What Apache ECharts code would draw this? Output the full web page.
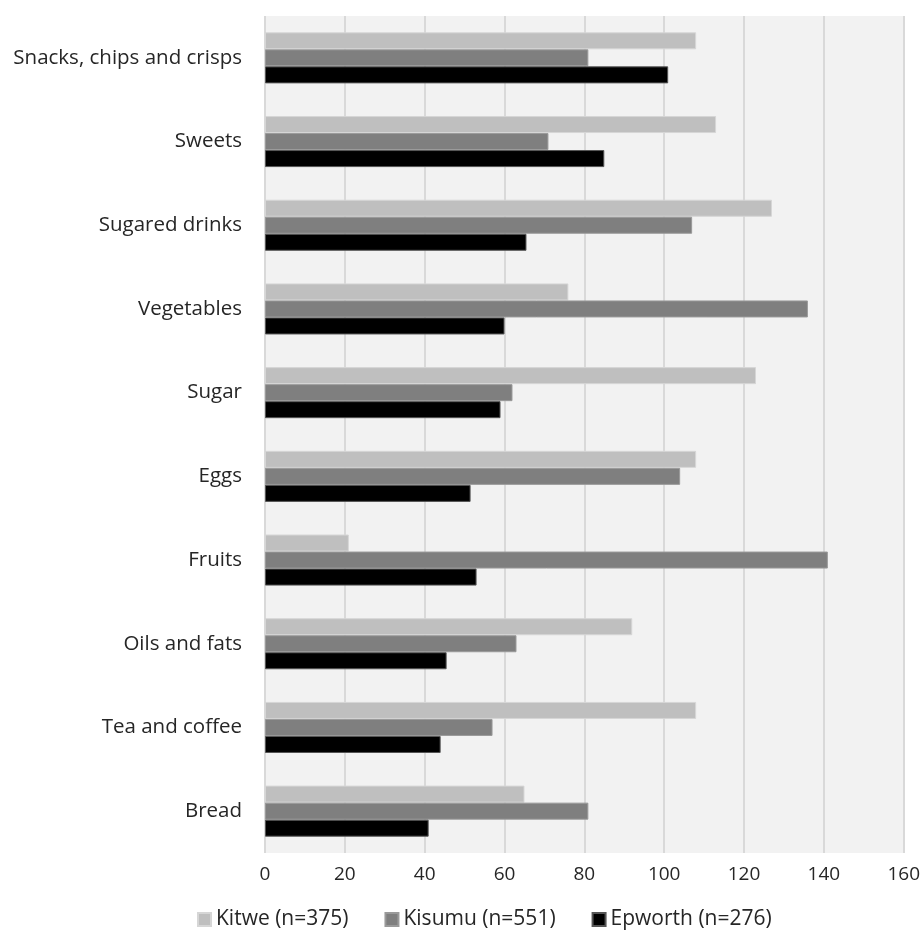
<!DOCTYPE html>
<html>
<head>
<meta charset="utf-8">
<script src="https://cdn.jsdelivr.net/npm/echarts@6/dist/echarts.min.js"></script>
<style>html,body{margin:0;padding:0;background:#fff;}#c{width:923px;height:941px;}</style>
</head>
<body>
<div id="c"></div>
<script>
const categories = ["Snacks, chips and crisps","Sweets","Sugared drinks","Vegetables","Sugar","Eggs","Fruits","Oils and fats","Tea and coffee","Bread"];
const kitwe = [108,113,127,76,123,108,21,92,108,65];
const kisumu = [81,71,107,136,62,104,141,63,57,81];
const epworth = [101,85,65.5,60,59,51.5,53,45.5,44,41];
const seriesNames = ["Kitwe (n=375)","Kisumu (n=551)","Epworth (n=276)"];
const xTicks = [0,20,40,60,80,100,120,140,160];

const chart = echarts.init(document.getElementById('c'), null, {renderer:'canvas'});
const font = 'Open Sans';
function bar(name, data, color, border){
  return {name:name, type:'bar', data:data, barGap:'0%', barCategoryGap:'39%',
    itemStyle:{color:color, borderColor:border, borderWidth:1}, animation:false};
}
chart.setOption({
  animation:false,
  textStyle:{fontFamily:font},
  grid:{left:265, right:11, top:16, bottom:88, show:true, backgroundColor:'#f2f2f2', borderWidth:0},
  legend:{top:904, left:192, itemWidth:13, itemHeight:13, itemGap:36, icon:'rect',
    textStyle:{fontFamily:font, fontSize:21, color:'#262626'}, data:seriesNames},
  xAxis:{type:'value', min:xTicks[0], max:xTicks[xTicks.length-1], interval:20,
    axisLine:{show:false}, axisTick:{show:false},
    axisLabel:{fontFamily:font, fontSize:19, color:'#262626', margin:12},
    splitLine:{show:true, lineStyle:{color:'#d9d9d9', width:2}}},
  yAxis:{type:'category', data:categories, inverse:true,
    axisLine:{show:false}, axisTick:{show:false},
    axisLabel:{fontFamily:font, fontSize:20.5, color:'#262626', margin:23},
    splitLine:{show:false}},
  series:[
    bar(seriesNames[0], kitwe, '#bfbfbf', '#d6d6d6'),
    bar(seriesNames[1], kisumu, '#7f7f7f', '#9a9a9a'),
    bar(seriesNames[2], epworth, '#000000', '#555555')
  ]
});
</script>
</body>
</html>
